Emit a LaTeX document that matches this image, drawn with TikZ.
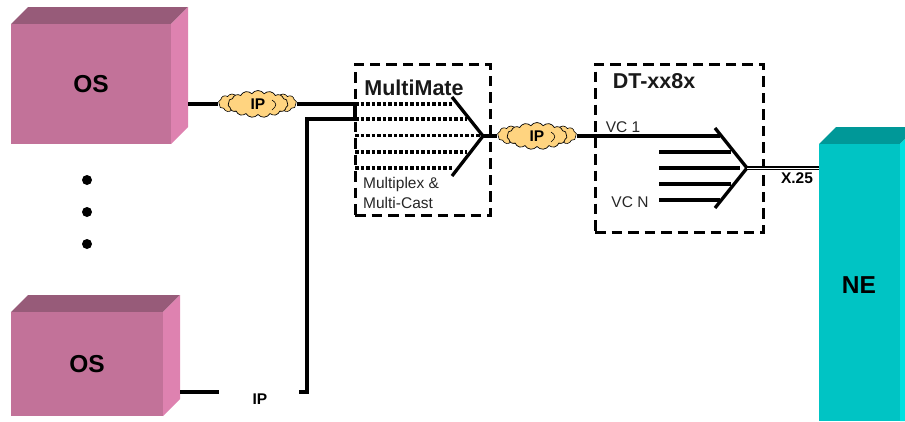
\documentclass[tikz,border=0pt]{standalone}
\usepackage{fontspec}
\setmainfont{Liberation Sans}
\usetikzlibrary{shapes.symbols}

\tikzset{
    x=1pt, y=-1pt,
    wire/.style={line width=3.3pt},
    dotwire/.style={line width=3.3pt, dash pattern=on 3.5pt off 2pt},
    dashbox/.style={draw, line width=3pt, dash pattern=on 10.5pt off 6pt},
    ipcloud/.style={cloud, cloud puffs=15, cloud puff arc=110, aspect=2.6, draw, line width=0.7pt, fill=cloudfill, minimum width=60pt, minimum height=27pt, inner sep=0pt, font=\bfseries\fontsize{15.5}{15.5}\selectfont},
    ipside/.style={cloud, cloud puffs=9, cloud puff arc=120, aspect=1.5, draw, line width=0.6pt, fill=cloudfill, minimum width=27pt, minimum height=18pt, inner sep=0pt},
    lbl/.style={inner sep=0pt, font=\fontsize{15.5}{16}\selectfont, text=black!85},
    title/.style={inner sep=0pt, font=\bfseries\fontsize{21.5}{21.5}\selectfont, text=black!90},
    boxlbl/.style={inner sep=0pt, font=\bfseries\fontsize{24.5}{24.5}\selectfont},
    dotmark/.style={circle, fill=black, inner sep=0pt, minimum size=10pt},
}
\definecolor{osfront}{HTML}{C27299}
\definecolor{ostop}{HTML}{975B79}
\definecolor{osside}{HTML}{DE82B0}
\definecolor{nefront}{HTML}{00C4C4}
\definecolor{netop}{HTML}{009898}
\definecolor{neside}{HTML}{00E0E0}
\definecolor{cloudfill}{HTML}{FFD480}

\begin{document}
\begin{tikzpicture}
    \useasboundingbox (0,0) rectangle (905,421);

    % OS boxes
    \fill[ostop] (11,24) -- (28,7) -- (188,7) -- (171,24) -- cycle;
    \fill[osside] (171,24) -- (188,7) -- (188,127) -- (171,144) -- cycle;
    \fill[osfront] (11,24) rectangle (171,144);
    \node[boxlbl] (osa) at (91,84) {OS};

    \fill[ostop] (11,312) -- (28,295) -- (180,295) -- (163,312) -- cycle;
    \fill[osside] (163,312) -- (180,295) -- (180,399) -- (163,416) -- cycle;
    \fill[osfront] (11,312) rectangle (163,416);
    \node[boxlbl] (osb) at (87,364) {OS};

    % dots
    \node[dotmark] (dota) at (87,180) {};
    \node[dotmark] (dotb) at (87,212) {};
    \node[dotmark] (dotc) at (87,244) {};

    % NE
    \fill[netop] (819,144) -- (836,127) -- (905,127) -- (905,139) -- (900,144) -- cycle;
    \fill[neside] (900,144) -- (905,139) -- (905,421) -- (900,421) -- cycle;
    \fill[nefront] (819,144) rectangle (900,421);
    \node[boxlbl] (ne) at (859,285) {NE};

    % dashed frames
    \node[dashbox, minimum width=135pt, minimum height=151pt] (mm) at (422.5,139.5) {};
    \node[dashbox, minimum width=168pt, minimum height=168pt] (dt) at (679,148) {};

    \node[title] (mmtitle) at (414,88) {MultiMate};
    \node[title] (dttitle) at (654,81) {DT-xx8x};
    \node[lbl, anchor=west] (mpa) at (363,184) {Multiplex \&};
    \node[lbl, anchor=west] (mpb) at (363,203) {Multi-Cast};
    \node[lbl] (vca) at (623,127) {VC 1};
    \node[lbl] (vcn) at (630,202) {VC N};
    \node[inner sep=0pt, font=\bfseries\fontsize{15.5}{15.5}\selectfont] (xlbl) at (797,178) {X.25};

    % clouds
    \node[ipside] (clal) at (232,103) {};
    \node[ipside] (clar) at (283,103) {};
    \node[ipcloud] (cla) at (258,104) {IP};
    \node[ipside] (clbl) at (511,135) {};
    \node[ipside] (clbr) at (563,135) {};
    \node[ipcloud] (clb) at (537,136) {IP};
    \draw[line width=0.6pt] (272,100) .. controls (277,103) and (277,106) .. (272,110);
    \draw[line width=0.6pt] (551,132) .. controls (556,135) and (556,138) .. (551,142);
    \node[inner sep=0pt, font=\bfseries\fontsize{15.5}{15.5}\selectfont] (iplbl) at (260,399) {IP};

    % connection points
    \coordinate (ina) at (355,104);
    \coordinate (inb) at (355,119);
    \coordinate (bend) at (307,119);
    \coordinate (foot) at (307,392);
    \coordinate (footend) at (299,392);
    \coordinate (osaout) at (188,104);
    \coordinate (osbout) at (180,392);
    \coordinate (osbend) at (219,392);
    \coordinate (mmtip) at (483,136);
    \coordinate (dttip) at (747,168);
    \coordinate (neport) at (819,168);

    % wires
    \draw[wire] (osaout) -- (clal.west |- osaout);
    \draw[wire] (clar.east |- ina) -- (ina) -- (inb);
    \draw[wire] (inb) -- (bend) -- (foot) -- (footend);
    \draw[wire] (osbout) -- (osbend);

    % MultiMate
    \foreach \y/\xend in {104/452, 119/467, 135.5/482, 152/467, 168/452}
        \draw[dotwire] (355,\y) -- (\xend,\y);
    \draw[wire] (452,97) -- (mmtip) -- (452,176);
    \draw[wire] (mmtip) -- (clbl.west |- mmtip);

    % DT-xx8x
    \coordinate (vcstart) at (720,136);
    \draw[wire] (clbr.east |- vcstart) -- (vcstart);
    \foreach \y/\xend in {152/731, 168/740, 184/731, 200/720}
        \draw[wire] (659,\y) -- (\xend,\y);
    \draw[wire] (715,128) -- (dttip) -- (715,208);

    % X.25 link
    \draw[line width=3.3pt] (dttip) -- (neport);
    \draw[line width=1pt, white] (dttip) -- (neport);
\end{tikzpicture}
\end{document}
